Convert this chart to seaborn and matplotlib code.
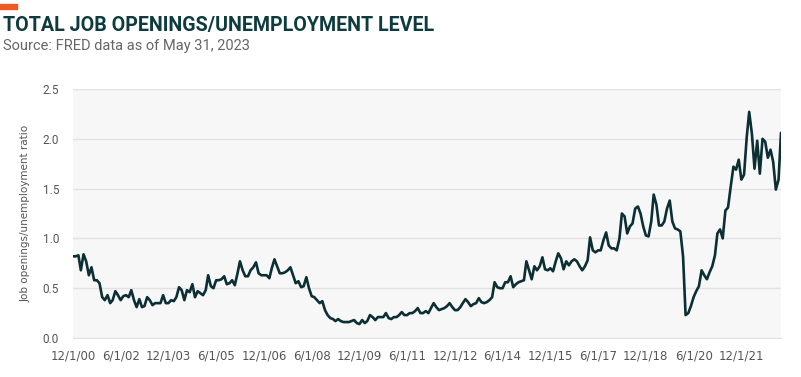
import matplotlib.pyplot as plt
import pandas as pd
import seaborn as sns
from matplotlib.patches import Rectangle

# 月度数据：职位空缺 / 失业人数（2000年12月 起）
start_month = "2000-12-01"

ratio_2000_2006 = [
    0.82, 0.82, 0.83, 0.68, 0.84, 0.77, 0.63, 0.71, 0.58, 0.58, 0.55, 0.41,
    0.38, 0.43, 0.35, 0.38, 0.47, 0.43, 0.38, 0.42, 0.43, 0.41, 0.48, 0.38,
    0.31, 0.39, 0.31, 0.32, 0.41, 0.38, 0.33, 0.35, 0.35, 0.35, 0.43, 0.35,
    0.35, 0.38, 0.37, 0.41, 0.51, 0.48, 0.38, 0.48, 0.46, 0.54, 0.41, 0.47,
    0.45, 0.43, 0.48, 0.63, 0.52, 0.50, 0.58, 0.58, 0.59, 0.62, 0.54, 0.55,
    0.58, 0.53, 0.65, 0.77, 0.68, 0.62, 0.62, 0.68, 0.71, 0.76, 0.65, 0.63,
]
ratio_2007_2012 = [
    0.63, 0.63, 0.60, 0.70, 0.79, 0.72, 0.65, 0.65, 0.66, 0.68, 0.71, 0.63,
    0.55, 0.57, 0.51, 0.52, 0.61, 0.50, 0.42, 0.41, 0.38, 0.35, 0.37, 0.28,
    0.23, 0.20, 0.19, 0.17, 0.19, 0.17, 0.16, 0.16, 0.16, 0.17, 0.18, 0.15,
    0.14, 0.18, 0.15, 0.17, 0.23, 0.21, 0.18, 0.21, 0.21, 0.21, 0.25, 0.20,
    0.19, 0.21, 0.21, 0.23, 0.26, 0.23, 0.23, 0.25, 0.25, 0.27, 0.30, 0.25,
    0.25, 0.27, 0.25, 0.30, 0.35, 0.31, 0.28, 0.29, 0.30, 0.32, 0.35, 0.31,
]
ratio_2013_2018 = [
    0.28, 0.28, 0.31, 0.35, 0.39, 0.36, 0.32, 0.34, 0.35, 0.40, 0.36, 0.35,
    0.36, 0.38, 0.41, 0.56, 0.51, 0.50, 0.50, 0.56, 0.56, 0.62, 0.51, 0.54,
    0.56, 0.57, 0.58, 0.77, 0.68, 0.59, 0.72, 0.68, 0.72, 0.81, 0.69, 0.68,
    0.70, 0.67, 0.77, 0.85, 0.80, 0.69, 0.77, 0.73, 0.77, 0.79, 0.77, 0.72,
    0.68, 0.72, 0.78, 1.01, 0.88, 0.86, 0.88, 0.88, 0.98, 1.06, 0.93, 0.90,
    0.90, 0.88, 1.00, 1.25, 1.22, 1.05, 1.12, 1.15, 1.30, 1.32, 1.25, 1.12,
]
ratio_2019_2023 = [
    1.03, 1.02, 1.17, 1.44, 1.34, 1.13, 1.13, 1.17, 1.30, 1.38, 1.17, 1.10,
    1.09, 1.07, 0.82, 0.23, 0.25, 0.32, 0.41, 0.47, 0.52, 0.68, 0.63, 0.59,
    0.66, 0.72, 0.83, 1.05, 1.09, 1.00, 1.28, 1.31, 1.52, 1.72, 1.69, 1.79,
    1.59, 1.64, 2.02, 2.27, 2.05, 1.70, 1.98, 1.65, 2.00, 1.97, 1.81, 1.89,
    1.77, 1.49, 1.59, 2.06,
]

ratio = ratio_2000_2006 + ratio_2007_2012 + ratio_2013_2018 + ratio_2019_2023
dates = pd.date_range(start_month, periods=len(ratio), freq="MS")
df = pd.DataFrame({"date": dates, "ratio": ratio})

# x 轴刻度：每 18 个月
tick_dates = pd.date_range("2000-12-01", "2021-12-01", freq="18MS")
tick_labels = [f"{d.month}/1/{d.year % 100:02d}" for d in tick_dates]
y_ticks = [0.0, 0.5, 1.0, 1.5, 2.0, 2.5]

sns.set_style("whitegrid", {"axes.facecolor": "#f7f7f7", "grid.color": "#e2e2e2"})
plt.rcParams["font.family"] = ["Roboto", "DejaVu Sans"]

fig = plt.figure(figsize=(8.01, 3.77), dpi=100)
ax = fig.add_axes([73 / 801, 1 - 338 / 377, (781 - 73) / 801, (338 - 89) / 377])

sns.lineplot(data=df, x="date", y="ratio", ax=ax, color="#0b2f33", linewidth=1.9)

ax.set_xlim(dates[0], dates[-1])
ax.set_ylim(0, 2.5)
ax.set_yticks(y_ticks)
ax.set_yticklabels([f"{v:.1f}" for v in y_ticks], fontsize=8.5, color="#555555")
ax.set_xticks(tick_dates)
ax.set_xticklabels(tick_labels, fontsize=8.5, color="#555555",
                   family=["Liberation Sans Narrow", "DejaVu Sans"])
ax.grid(axis="x", visible=False)
ax.grid(axis="y", linewidth=1.0)
ax.tick_params(axis="x", length=4, color="#cccccc", width=0.8, pad=4)
ax.tick_params(axis="y", length=0, pad=10)
for side in ["top", "right", "left"]:
    ax.spines[side].set_visible(False)
ax.spines["bottom"].set_color("#e2e2e2")

ax.set_xlabel("")
ax.set_ylabel("Job openings/unemployment ratio", fontsize=7.5, color="#555555",
              family=["Liberation Sans Narrow", "DejaVu Sans"], labelpad=9)

# 标题与来源
fig.patches.append(Rectangle((0, 1 - 9 / 377), 17 / 801, 5 / 377,
                             transform=fig.transFigure, color="#f05a22"))
fig.text(3 / 801, 1 - 26 / 377, "TOTAL JOB OPENINGS/UNEMPLOYMENT LEVEL",
         fontsize=14.1, fontweight="bold", color="#0d3b3e", va="center", ha="left")
fig.text(3 / 801, 1 - 46 / 377, "Source: FRED data as of May 31, 2023",
         fontsize=10.5, color="#666666", va="center", ha="left")

fig.savefig("out.png", dpi=100)
